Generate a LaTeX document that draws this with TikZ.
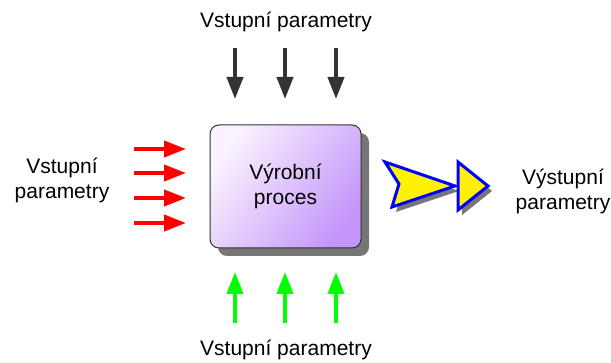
\documentclass[tikz,border=0pt]{standalone}
\usepackage{fontspec}
\setmainfont{Liberation Sans}
\usetikzlibrary{arrows.meta}
\definecolor{boxlight}{RGB}{250,242,255}
\definecolor{boxpurple}{RGB}{196,150,250}
\definecolor{shadowgray}{RGB}{118,118,118}
\definecolor{darkarrow}{RGB}{51,51,51}
\definecolor{redarrow}{RGB}{255,0,0}
\definecolor{greenarrow}{RGB}{0,255,0}
\definecolor{bluedge}{RGB}{0,0,255}
\tikzset{
  lbl/.style={font=\fontsize{21}{25}\selectfont, align=center, inner sep=0pt},
  inarrow/.style={line width=4pt, -{Triangle[width=16pt,length=22pt]}},
}
\begin{document}
\begin{tikzpicture}[x=1pt,y=-1pt]
\useasboundingbox (0,0) rectangle (611,363);
% shadow of process box
\fill[shadowgray, rounded corners=9pt] (218,133) rectangle (369,256);
% process box
\shade[rounded corners=9pt, shading=axis, left color=boxlight, right color=boxpurple, shading angle=55]
  (210,125) rectangle (361,248);
\draw[line width=1pt, black!80, rounded corners=9pt] (210,125) rectangle (361,248);
\node[lbl] (proc) at (285.5,186) {Výrobní\\proces};
% labels
\node[lbl] (top) at (286,22) {Vstupní parametry};
\node[lbl] (bot) at (286,350) {Vstupní parametry};
\node[lbl] (left) at (62,180) {Vstupní\\parametry};
\node[lbl] (right) at (563,191) {Výstupní\\parametry};
% top arrows
\foreach \i/\x in {1/235,2/285,3/336}{
  \coordinate (ts\i) at (\x,48);
  \coordinate (te\i) at (\x,99);
  \draw[inarrow, darkarrow] (ts\i) -- (te\i);
}
% bottom arrows
\foreach \i/\x in {1/235,2/285,3/336}{
  \coordinate (bs\i) at (\x,323);
  \coordinate (be\i) at (\x,272);
  \draw[inarrow, greenarrow] (bs\i) -- (be\i);
}
% left arrows
\foreach \i/\y in {1/149,2/173,3/198,4/223}{
  \coordinate (ls\i) at (134,\y);
  \coordinate (le\i) at (186,\y);
  \draw[inarrow, redarrow] (ls\i) -- (le\i);
}
% output arrow shadow
\begin{scope}[shift={(4,5)}]
\fill[shadowgray] (385,162) -- (455,186) -- (392,207) -- (399,184) -- cycle;
\fill[shadowgray] (458,162) -- (488,186) -- (458,210) -- cycle;
\end{scope}
% output arrow
\filldraw[fill=yellow, draw=bluedge, line width=3pt, line join=miter]
  (385,162) -- (455,186) -- (392,207) -- (399,184) -- cycle;
\filldraw[fill=yellow, draw=bluedge, line width=3pt, line join=miter]
  (458,162) -- (488,186) -- (458,210) -- cycle;
\end{tikzpicture}
\end{document}
